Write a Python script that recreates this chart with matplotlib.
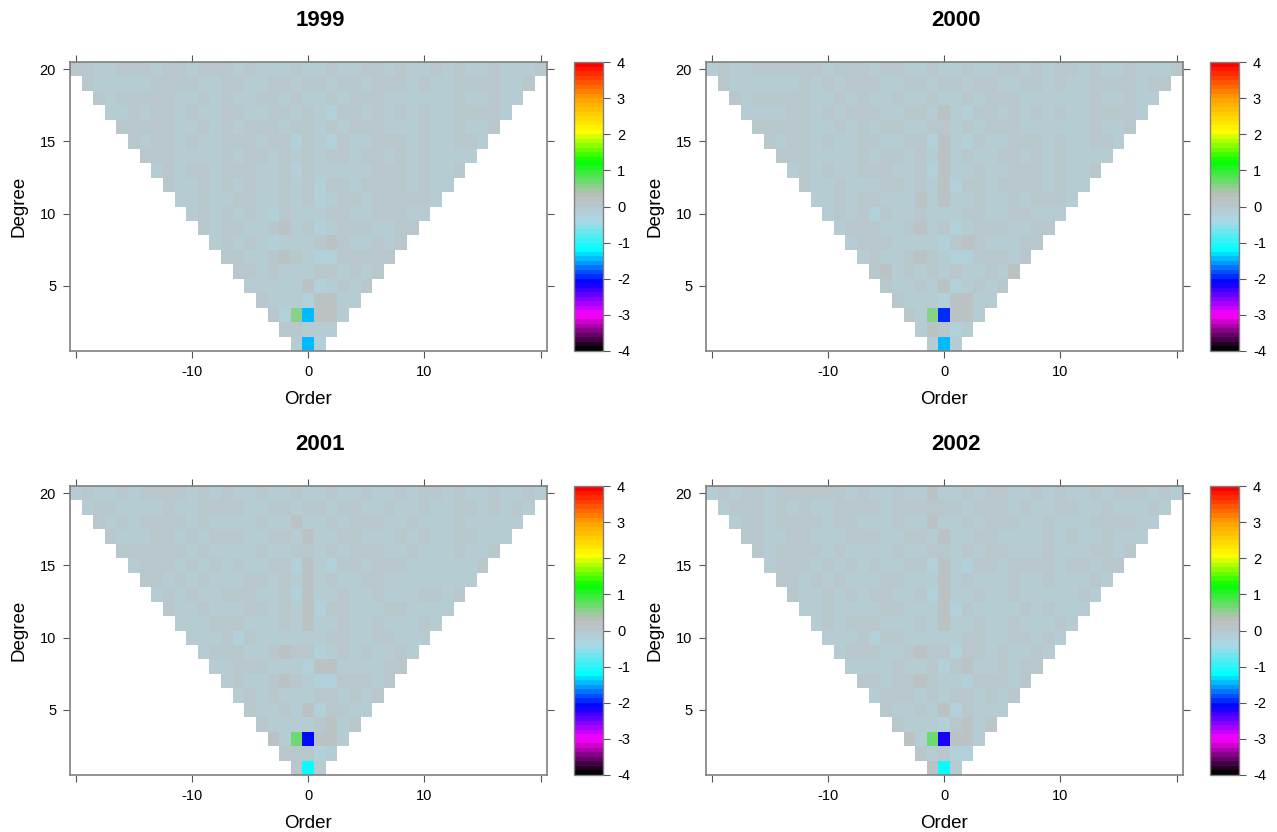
import numpy as np
import matplotlib
matplotlib.use("Agg")
import matplotlib.pyplot as plt
from matplotlib.colors import LinearSegmentedColormap

plt.rcParams['font.family'] = ['Liberation Sans', 'DejaVu Sans']

YEARS = ['1999', '2000', '2001', '2002']

# one string per degree, 20 down to 1, orders -n..n read left to right
# g/b/c/d are the pale levels, G/B/A the three strong cells near the bottom
ROWS_1999 = [
    "ggbbgggbggbgggbgbbbg b bgbbggbgbbgbgbbgbbbg",
    "gbbbbbggggbbggbbggb g gbggbgggbgbbggggbbg",
    "gbgggggbbgbgbbggbg b bgbgggbbbbbbgbbgbb",
    "bbgbggbgbbggbbggb g bcggbgbgbgbbggggb",
    "gggggbbgbgbgggbg g bgbgggbbbgbbgbbg",
    "gbggbgbbgggbggc g bcgbbgggbgbbggb",
    "gggbbbbgbggbgb g bggbggbgbgbbbb",
    "bgbggbgggbbgc g bbbbbgggbgbbg",
    "gbbgbgbgbbgb g cggbggggbgbb",
    "bbgbbggbbgb g cbggbgggggb",
    "bgbgbgbcgb b bggbbgggbb",
    "gbggbbgdb g cbgggbbgg",
    "bgbgbcbb b gdgbbgbg",
    "ggbbgdg b ccggggg",
    "ggbgbb b ggbgbg",
    "bbbbb d cbgbg",
    "gbbb c ddbb",
    "gcG B ddb",
    "gg b bb",
    "b A c",
]
ROWS_2000 = [
    "bgbbggggggbgggbggbbg b bgbbggbgbggbgbbgbbbg",
    "gbbbbbbgbgbgggbbggb g gbggbbggbgbbggggbgg",
    "gbgggggbbgbgbbgbbg b bgbgggbbbbbbgbbgbb",
    "bbbbggbgbgggbbggb d bcggbgbgbgbbggggb",
    "gggggbbgbgbggbbg g bgbgggbbbbbbgbbg",
    "gbggbgbbggbbggc d bcgbbgggbgbbggb",
    "gggbbbbgbggbgb d bgbbggbgbgbbbb",
    "bgbgbbgggbbgc d bbgbbgggbgbbg",
    "gbbgbbbggbgb d cggbggggbgbb",
    "bbgbggbbbdb d bbgbbgbgggb",
    "bgbgcgbbgb b bggbbggbbb",
    "bgggbbgdb g cbgggbbgg",
    "bgggbbbb c gdgbbbgg",
    "bgbbgdg b ccgggbg",
    "gdbgbg b gbbgbd",
    "gbbgb d cbgbg",
    "gbbb c ddbb",
    "gbG B ddb",
    "bd g cb",
    "b A b",
]
ROWS_2001 = [
    "bgbbgbggggbgbgbbgbbg b bgbbgbbgbggbgbbgbbgb",
    "bggbbbbgbbggggbbggb g gbggbbgbbgbbggbgbgb",
    "gbgbggggbgbbbbgbbd b bgbgggbbgbbbgbbbbb",
    "gbbbggbgbgggbbggb d bbggbbbgbgbbggbbb",
    "ggggggbgbbbbgbbg g bgbgggbbgbbbgbbg",
    "bgggbgbgbgbbggc d bcggbgggbbbbbbg",
    "ggbgbgbbbggbgb d bgbbggbbbbbbbb",
    "bgbgbbgggbbgc d bbgbbgbbbggbg",
    "gbbgbbbggbgb d cggbbbggbbbb",
    "bbbgggbbbgb d bbgbbgbbbgb",
    "bbbgcgbbbb b bggbbggbbb",
    "bgggbbgdg g cbgbgbbgb",
    "bbgggbbb c ddbbbbgg",
    "bgbbgdg b ccgggbg",
    "bgbgbb b ggbgbg",
    "gbbgb d cggbb",
    "gbbb b gdbg",
    "dbG B ddb",
    "gg g cb",
    "g A b",
]
ROWS_2002 = [
    "bgbggbggggggbgbbgbbd b bgbggbbgbgbbgbgggbgb",
    "bgggbgbgbbggggbgggg g gbgggbgbbggbbgbbbgb",
    "bggbggggbggbbbgbbd b bgbgggbbgbbbggggbb",
    "ggbbggbbbgggbbggb d bbggbbbbgbgbbgbbb",
    "gbggggbgbbbbgbbg g bgbggbbbgbbbggbg",
    "bgggbgbgbgbbggc d bcggbggggbggbgg",
    "ggbgbgbbbggbbb d bgbbbgbbgbbbgb",
    "gbbgbgbggbbgc d bbgbbgbbbbbgb",
    "bbgbbbbggbbb d cgbbbbgbgbbb",
    "bgbgggbbbgb d bbgbbgbbbgb",
    "bbbgcggbbb b bggbbggbgb",
    "bgggbbgdg g cggbgbbgb",
    "bbbbgbbg c gdbbgbgg",
    "ggbggdg b bcgggbg",
    "bgggbg b ggbgbg",
    "gbbgb d cgbbb",
    "gbbb c gdbg",
    "dbG B ddb",
    "gb g cc",
    "d A b",
]
ALL_ROWS = [ROWS_1999, ROWS_2000, ROWS_2001, ROWS_2002]

PALE_LEVELS = {'g': 0.02, 'b': -0.10, 'c': -0.22, 'd': 0.15}
# the three strong cells per year
GREEN_CELL = [0.60, 0.60, 0.66, 0.72]
BLUE_CELL = [-1.50, -1.88, -2.10, -2.20]
LOW_CELL = [-1.50, -1.48, -1.15, -1.22]

CMAP_STOPS = [-4, -3.05, -2.12, -1.22, -0.4, 0.3, 1.25, 2.1, 3.0, 4]
CMAP_COLORS = ['black', 'magenta', 'blue', 'cyan', 'lightblue', '#bebebe',
               'lime', 'yellow', 'orange', 'red']
BAR_TICKS = [-4, -3, -2, -1, 0, 1, 2, 3, 4]
ORDER_TICKS = [-20, -10, 0, 10, 20]
ORDER_LABELS = ['', '-10', '0', '10', '']
DEGREE_TICKS = [5, 10, 15, 20]

W, H = 1277, 832
FRAME = '#808080'
# panel boxes in pixels: left, top of the axes
LEFTS = [70, 706, 70, 706]
TOPS = [62, 62, 486, 486]
AX_W, AX_H = 476.5, 289
BAR_GAP, BAR_W = 27.5, 29


def decode(rows, idx):
    grid = np.full((20, 41), np.nan)
    for i, row in enumerate(rows):
        degree = 20 - i
        cells = row.replace(' ', '')
        assert len(cells) == 2 * degree + 1, (degree, len(cells))
        for j, ch in enumerate(cells):
            order = j - degree
            if ch == 'G':
                val = GREEN_CELL[idx]
            elif ch == 'B':
                val = BLUE_CELL[idx]
            elif ch == 'A':
                val = LOW_CELL[idx]
            else:
                val = PALE_LEVELS[ch]
            grid[degree - 1, order + 20] = val
    return np.ma.masked_invalid(grid)


def px_axes(fig, left, top, width, height):
    return fig.add_axes([left / W, 1 - (top + height) / H, width / W, height / H])


stops = [(s + 4) / 8 for s in CMAP_STOPS]
cmap = LinearSegmentedColormap.from_list('cells', list(zip(stops, CMAP_COLORS)), N=64)

fig = plt.figure(figsize=(W / 100, H / 100), dpi=100)
orders = np.arange(-20, 21)
degrees = np.arange(1, 21)

for idx, year in enumerate(YEARS):
    ax = px_axes(fig, LEFTS[idx], TOPS[idx], AX_W, AX_H)
    mesh = ax.pcolormesh(orders, degrees, decode(ALL_ROWS[idx], idx), cmap=cmap,
                         vmin=-4, vmax=4, shading='nearest', antialiased=False)
    ax.set_xlim(-20.5, 20.5)
    ax.set_ylim(0.5, 20.5)
    ax.set_xticks(ORDER_TICKS)
    ax.set_xticklabels(ORDER_LABELS)
    ax.set_yticks(DEGREE_TICKS)
    ax.tick_params(top=True, right=True, length=5, width=0.8, color='#555555',
                   labelsize=10.5, pad=5, direction='out')
    for spine in ax.spines.values():
        spine.set_color(FRAME)
        spine.set_linewidth(1.2)
    ax.set_xlabel('Order', fontsize=13.5, labelpad=9)
    ax.set_ylabel('Degree', fontsize=13.5, labelpad=9)
    # title is centred over plot + colour bar, not the plot alone
    ax.set_title(year, fontsize=16, fontweight='bold', pad=26, x=0.5247)

    cax = px_axes(fig, LEFTS[idx] + AX_W + BAR_GAP, TOPS[idx], BAR_W, AX_H)
    cb = fig.colorbar(mesh, cax=cax, ticks=BAR_TICKS, drawedges=False)
    cb.ax.set_yticklabels([str(t) for t in BAR_TICKS])
    cb.ax.tick_params(length=5, width=0.8, color='#555555', labelsize=10.5, pad=5)
    cb.outline.set_edgecolor(FRAME)
    cb.outline.set_linewidth(1.0)

fig.savefig('out.png', dpi=100)
